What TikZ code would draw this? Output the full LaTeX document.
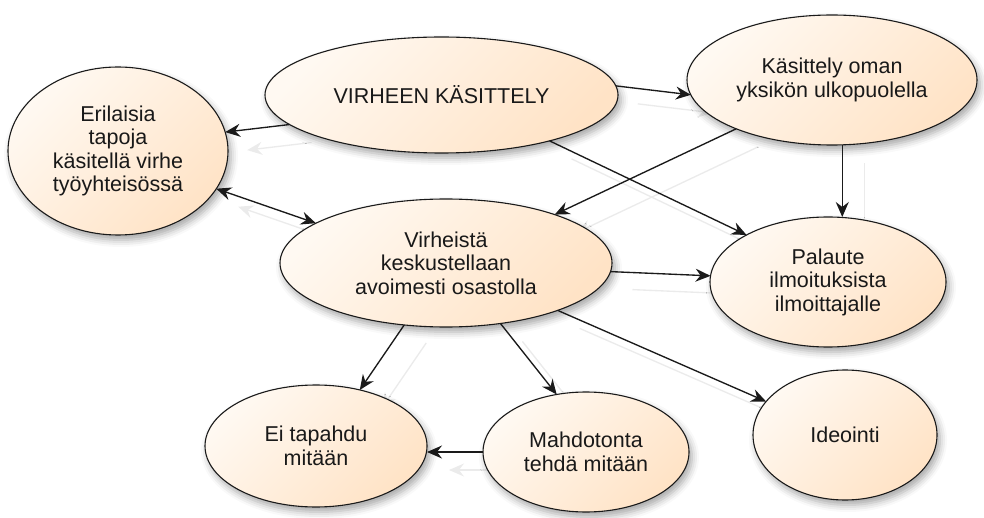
\documentclass[tikz,border=0pt]{standalone}
\usepackage{fontspec}
\setmainfont{Liberation Sans}
\usetikzlibrary{shapes.geometric,arrows.meta,shadows.blur}

\definecolor{peachlight}{HTML}{FFF9F2}
\definecolor{peachdark}{HTML}{FFE3C6}
\definecolor{inkline}{HTML}{1A1A1A}
\definecolor{ghostline}{HTML}{EBEBEB}

\pgfdeclarelayer{back}
\pgfsetlayers{back,main}

\begin{document}
\begin{tikzpicture}[x=1pt,y=-1pt,
  >={Stealth[length=15pt,width=13pt,inset=5pt]},
  bubble/.style={ellipse, draw=inkline, line width=1.1pt, inner sep=0pt, outer sep=0pt,
    top color=peachlight, bottom color=peachdark, shading angle=45,
    blur shadow={shadow xshift=3pt, shadow yshift=-5pt, shadow blur radius=7pt, shadow opacity=35},
    align=center, font=\fontsize{21.5}{23.5}\selectfont, text=black!90},
  link/.style={draw=inkline, line width=1.35pt, ->},
  ghost/.style={draw=ghostline, line width=1.35pt, ->, transform canvas={shift={(22pt,-18pt)}}},
]
\useasboundingbox (0,0) rectangle (984,518);

% topics
\node[bubble, minimum width=353pt, minimum height=116pt] (vk)  at (441.5,95) {VIRHEEN KÄSITTELY};
\node[bubble, minimum width=290pt, minimum height=130pt] (kas) at (832,80)   {Käsittely oman\\yksikön ulkopuolella};
\node[bubble, minimum width=220pt, minimum height=168pt] (eri) at (118,151)  {Erilaisia\\tapoja\\käsitellä virhe\\työyhteisössä};
\node[bubble, minimum width=332pt, minimum height=128pt] (vkk) at (446,263)  {Virheistä\\keskustellaan\\avoimesti osastolla};
\node[bubble, minimum width=236pt, minimum height=130pt] (pal) at (828,282)  {Palaute\\ilmoituksista\\ilmoittajalle};
\node[bubble, minimum width=222pt, minimum height=122pt] (eit) at (316,446)  {Ei tapahdu\\mitään};
\node[bubble, minimum width=206pt, minimum height=120pt] (mah) at (586,452)  {Mahdotonta\\tehdä mitään};
\node[bubble, minimum width=184pt, minimum height=130pt] (ide) at (845,435)  {Ideointi};

% connectors
\draw[link] (vk.3)    -- (kas.186);
\draw[link] (vk.191)  -- (eri.10);
\draw[link] (vk.337)  -- (pal.150);
\draw[link] (kas.207) -- (vkk.24);
\draw[link] (kas.279) -- (kas.279 |- pal.north);
\draw[link,<->] (eri.339) -- (vkk.163);
\draw[link] (vkk.357) -- (pal.177);
\draw[link] (vkk.236) -- (eit.52);
\draw[link] (vkk.312) -- (mah.117);
\draw[link] (vkk.337) -- (ide.157);
\draw[link] (mah.west) -- (mah.west -| eit.east);

% faint cast shadows of the connectors, behind the topics
\begin{pgfonlayer}{back}
\draw[ghost] (vk.3)    -- (kas.186);
\draw[ghost] (vk.191)  -- (eri.10);
\draw[ghost] (vk.337)  -- (pal.150);
\draw[ghost] (kas.207) -- (vkk.24);
\draw[ghost] (kas.279) -- (kas.279 |- pal.north);
\draw[ghost,<->] (eri.339) -- (vkk.163);
\draw[ghost] (vkk.357) -- (pal.177);
\draw[ghost] (vkk.236) -- (eit.52);
\draw[ghost] (vkk.312) -- (mah.117);
\draw[ghost] (vkk.337) -- (ide.157);
\draw[ghost] (mah.west) -- (mah.west -| eit.east);
\end{pgfonlayer}
\end{tikzpicture}
\end{document}
